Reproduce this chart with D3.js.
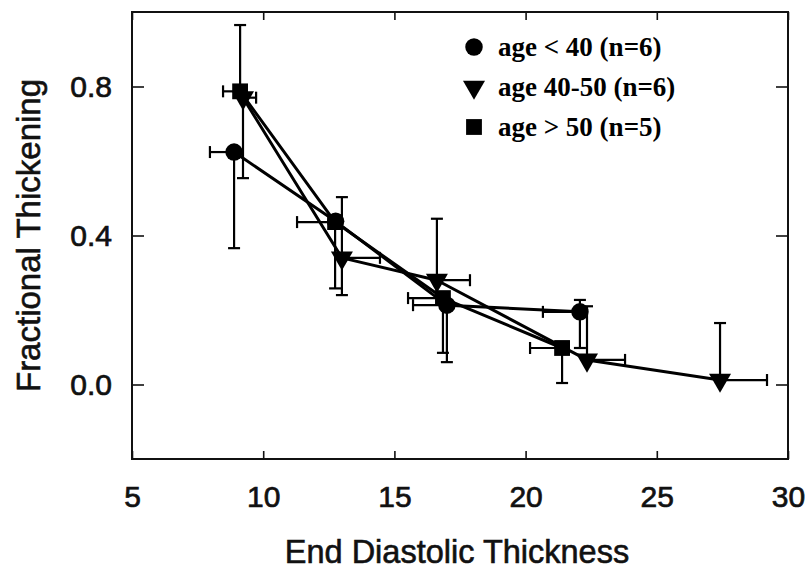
<!DOCTYPE html>
<html><head><meta charset="utf-8">
<script src="https://cdn.jsdelivr.net/npm/d3@7"></script>
<style>body{margin:0;background:#fff}svg{display:block}</style>
</head><body>
<svg id="c" width="810" height="573"></svg>
<script>
// ---- data ----
const seriesNames = ["age < 40 (n=6)", "age 40-50 (n=6)", "age > 50 (n=5)"];
const seriesSymbols = ["circle", "triangle", "square"];

const youngX   = [8.89, 12.76, 17.0, 22.07];
const youngY   = [0.624, 0.438, 0.213, 0.195];
const youngXlo = [7.97, null, 15.71, 20.66];
const youngXhi = [null, null, null, null];
const youngYlo = [0.366, null, 0.06, 0.098];
const youngYhi = [null, null, null, 0.227];

const midX   = [9.23, 13.0, 16.62, 22.34, 27.41];
const midY   = [0.77, 0.34, 0.28, 0.066, 0.012];
const midXlo = [null, null, null, null, null];
const midXhi = [9.73, 14.45, 17.88, 23.79, 29.2];
const midYlo = [0.554, 0.24, null, null, null];
const midYhi = [null, 0.503, 0.445, 0.21, 0.165];

const oldX   = [9.12, 12.74, 16.85, 21.39];
const oldY   = [0.787, 0.436, 0.232, 0.098];
const oldXlo = [8.47, 11.29, 15.52, 20.17];
const oldXhi = [null, null, null, null];
const oldYlo = [null, 0.258, 0.085, 0.004];
const oldYhi = [0.965, null, null, null];

const xTicks = [5, 10, 15, 20, 25, 30];
const yTicks = [0.0, 0.4, 0.8];
const xDomain = [5, 30];
const yDomain = [-0.2, 1.0];
const xTitle = "End Diastolic Thickness";
const yTitle = "Fractional Thickening";

// ---- build ----
const series = [
  {x: youngX, y: youngY, xlo: youngXlo, xhi: youngXhi, ylo: youngYlo, yhi: youngYhi},
  {x: midX, y: midY, xlo: midXlo, xhi: midXhi, ylo: midYlo, yhi: midYhi},
  {x: oldX, y: oldY, xlo: oldXlo, xhi: oldXhi, ylo: oldYlo, yhi: oldYhi}
].map((s, i) => ({
  name: seriesNames[i], symbol: seriesSymbols[i],
  pts: s.x.map((v, j) => ({x: v, y: s.y[j], xlo: s.xlo[j], xhi: s.xhi[j], ylo: s.ylo[j], yhi: s.yhi[j]}))
}));

const m = {left: 132, right: 788, top: 12, bottom: 459};
const svg = d3.select("#c");
const x = d3.scaleLinear().domain(xDomain).range([m.left, m.right]);
const y = d3.scaleLinear().domain(yDomain).range([m.bottom, m.top]);

const tickFont = "'Liberation Sans', Arial, sans-serif";

// axes with inward ticks
const gB = svg.append("g").attr("transform", `translate(0,${m.bottom})`)
  .call(d3.axisBottom(x).tickValues(xTicks).tickSize(-8).tickPadding(27).tickFormat(d3.format("d")));
const gT = svg.append("g").attr("transform", `translate(0,${m.top})`)
  .call(d3.axisTop(x).tickValues(xTicks).tickSize(-8).tickFormat(""));
const gL = svg.append("g").attr("transform", `translate(${m.left},0)`)
  .call(d3.axisLeft(y).tickValues(yTicks).tickSize(-12).tickPadding(20).tickFormat(d3.format(".1f")));
const gR = svg.append("g").attr("transform", `translate(${m.right},0)`)
  .call(d3.axisRight(y).tickValues(yTicks).tickSize(-12).tickFormat(""));
[gB, gT, gL, gR].forEach(g => {
  g.select(".domain").remove();
  g.selectAll(".tick line").attr("stroke", "#111").attr("stroke-width", 1.6);
  g.selectAll(".tick text").attr("fill", "#111").attr("stroke", "#111").attr("stroke-width", 0.7)
    .style("font-family", tickFont).style("font-size", "30px");
});
gB.selectAll(".tick text").attr("dy", "0.71em");

// frame
svg.append("rect").attr("x", m.left).attr("y", m.top)
  .attr("width", m.right - m.left).attr("height", m.bottom - m.top)
  .attr("fill", "none").attr("stroke", "#111").attr("stroke-width", 2);

// axis titles
svg.append("text").attr("x", 457).attr("y", 563)
  .attr("text-anchor", "middle").attr("fill", "#111").attr("stroke", "#111").attr("stroke-width", 0.6)
  .style("font-family", tickFont).style("font-size", "32.5px").text(xTitle);
svg.append("text").attr("transform", `translate(40,${(m.top + m.bottom) / 2}) rotate(-90)`)
  .attr("text-anchor", "middle").attr("fill", "#111").attr("stroke", "#111").attr("stroke-width", 0.6)
  .style("font-family", tickFont).style("font-size", "33px").text(yTitle);

// lines
const line = d3.line().x(d => x(d.x)).y(d => y(d.y));
svg.append("g").selectAll("path").data(series).join("path")
  .attr("d", d => line(d.pts)).attr("fill", "none")
  .attr("stroke", "#000").attr("stroke-width", 3).attr("stroke-linejoin", "round");

// error bars
const eb = svg.append("g").attr("stroke", "#000").attr("stroke-width", 2.2);
const cap = 6;
series.forEach(s => s.pts.forEach(p => {
  if (p.ylo != null) {
    eb.append("line").attr("x1", x(p.x)).attr("x2", x(p.x)).attr("y1", y(p.y)).attr("y2", y(p.ylo));
    eb.append("line").attr("x1", x(p.x) - cap).attr("x2", x(p.x) + cap).attr("y1", y(p.ylo)).attr("y2", y(p.ylo));
  }
  if (p.yhi != null) {
    eb.append("line").attr("x1", x(p.x)).attr("x2", x(p.x)).attr("y1", y(p.y)).attr("y2", y(p.yhi));
    eb.append("line").attr("x1", x(p.x) - cap).attr("x2", x(p.x) + cap).attr("y1", y(p.yhi)).attr("y2", y(p.yhi));
  }
  if (p.xlo != null) {
    eb.append("line").attr("x1", x(p.x)).attr("x2", x(p.xlo)).attr("y1", y(p.y)).attr("y2", y(p.y));
    eb.append("line").attr("x1", x(p.xlo)).attr("x2", x(p.xlo)).attr("y1", y(p.y) - cap).attr("y2", y(p.y) + cap);
  }
  if (p.xhi != null) {
    eb.append("line").attr("x1", x(p.x)).attr("x2", x(p.xhi)).attr("y1", y(p.y)).attr("y2", y(p.y));
    eb.append("line").attr("x1", x(p.xhi)).attr("x2", x(p.xhi)).attr("y1", y(p.y) - cap).attr("y2", y(p.y) + cap);
  }
}));

// markers
const symType = {circle: d3.symbolCircle, triangle: d3.symbolTriangle, square: d3.symbolSquare};
function marker(g, type, cx, cy) {
  if (type === "triangle") {
    g.append("path").attr("d", d3.symbol(symType.triangle, 210)())
      .attr("transform", `translate(${cx},${cy}) rotate(180)`).attr("fill", "#000");
  } else {
    g.append("path").attr("d", d3.symbol(symType[type], type === "circle" ? 240 : 250)())
      .attr("transform", `translate(${cx},${cy})`).attr("fill", "#000");
  }
}
const mk = svg.append("g");
series.forEach(s => s.pts.forEach(p => marker(mk, s.symbol, x(p.x), y(p.y))));

// legend
const legY = [47, 87, 127];
const lg = svg.append("g");
series.forEach((s, i) => {
  marker(lg, s.symbol, 474, legY[i]);
  lg.append("text").attr("x", 498).attr("y", legY[i]).attr("dy", "0.35em")
    .attr("fill", "#000").style("font-family", "'Liberation Serif', 'Times New Roman', serif")
    .style("font-weight", "bold").style("font-size", "27px").text(s.name);
});
</script>
</body></html>
